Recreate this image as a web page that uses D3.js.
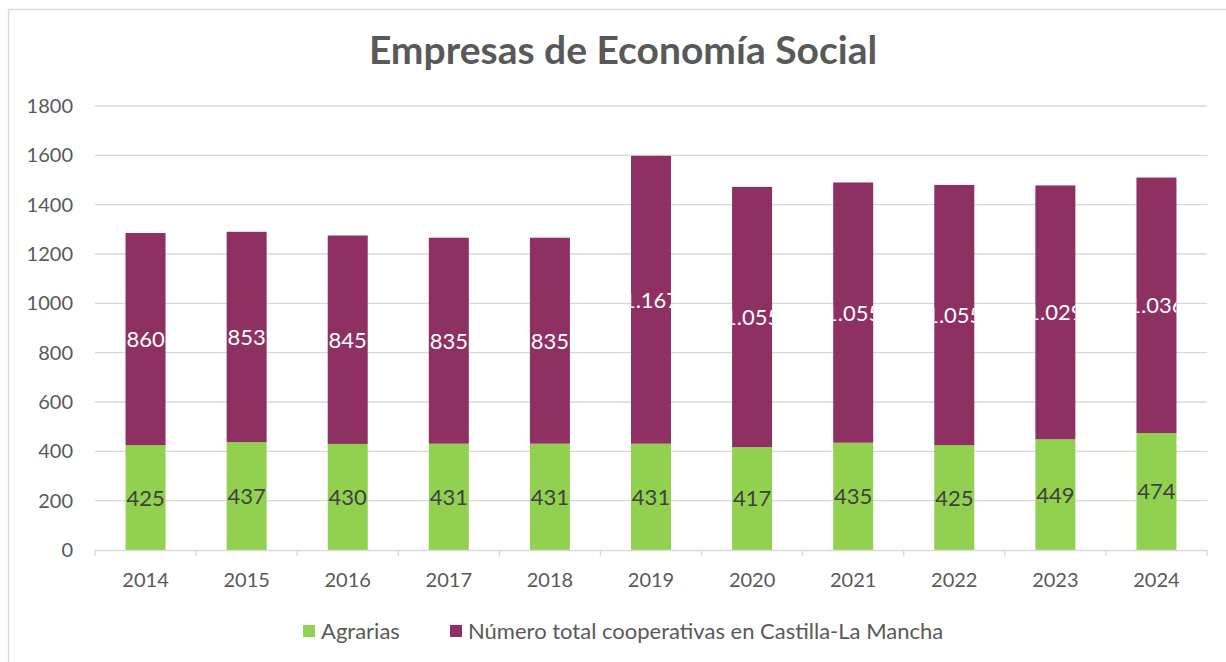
<!DOCTYPE html>
<html>
<head>
<meta charset="utf-8">
<title>Empresas de Economía Social</title>
<script src="https://cdn.jsdelivr.net/npm/d3@7"></script>
<style>
  body { margin: 0; background: #fff; }
  text { font-family: Lato, "Open Sans", sans-serif; }
</style>
</head>
<body>
<script>
const years = ["2014", "2015", "2016", "2017", "2018", "2019", "2020", "2021", "2022", "2023", "2024"];
const agrarias = [425, 437, 430, 431, 431, 431, 417, 435, 425, 449, 474];
const totalCoop = [860, 853, 845, 835, 835, 1167, 1055, 1055, 1055, 1029, 1036];
const yTicks = [0, 200, 400, 600, 800, 1000, 1200, 1400, 1600, 1800];
const seriesNames = ["Agrarias", "Número total cooperativas en Castilla-La Mancha"];

const green = "#92d050";
const purple = "#8e3062";
const textCol = "#595959";

const W = 1226, H = 662;
const margin = {top: 106, right: 19, bottom: 112, left: 95};

const svg = d3.select("body").append("svg")
    .attr("width", W)
    .attr("height", H);

// chart frame (right and bottom edges fall outside the picture)
svg.append("rect")
    .attr("x", 8.5).attr("y", 9.5)
    .attr("width", W + 20).attr("height", H + 20)
    .attr("fill", "#fff")
    .attr("stroke", "#d9d9d9")
    .attr("stroke-width", 1.5);

svg.append("text")
    .text("Empresas de Economía Social")
    .attr("x", 623)
    .attr("y", 64)
    .attr("text-anchor", "middle")
    .style("font-size", "39px")
    .style("font-weight", "bold")
    .style("fill", textCol);

const x = d3.scaleBand()
    .domain(years)
    .range([margin.left, W - margin.right]);

const y = d3.scaleLinear()
    .domain([0, 1800])
    .range([H - margin.bottom, margin.top]);

// gridlines
svg.append("g")
    .selectAll("line")
    .data(yTicks.filter(d => d > 0))
    .enter().append("line")
    .attr("x1", margin.left)
    .attr("x2", W - margin.right)
    .attr("y1", d => y(d))
    .attr("y2", d => y(d))
    .attr("stroke", "#d9d9d9")
    .attr("stroke-width", 1.3);

// y axis labels
const yAxis = svg.append("g")
    .attr("transform", "translate(" + margin.left + ",0)")
    .call(d3.axisLeft(y).tickValues(yTicks).tickFormat(d3.format("d")).tickSize(0).tickPadding(22));
yAxis.select(".domain").remove();
yAxis.selectAll("text")
    .style("font-size", "20px")
    .style("fill", textCol)
    .style("font-family", "Lato, sans-serif");

// stacked data
const rows = years.map((yr, i) => ({year: yr, agr: agrarias[i], tot: totalCoop[i]}));
const stack = d3.stack().keys(["agr", "tot"])(rows);
const colors = [green, purple];
const barW = 40;
const fmt = d3.formatLocale({decimal: ",", thousands: ".", grouping: [3], currency: ["", "€"]}).format(",d");

const defs = svg.append("defs");

stack.forEach((layer, li) => {
    const g = svg.append("g");
    layer.forEach((d, i) => {
        const bx = x(d.data.year) + x.bandwidth() / 2 - barW / 2;
        const id = "clip-" + li + "-" + i;
        defs.append("clipPath").attr("id", id)
            .append("rect")
            .attr("x", bx).attr("y", y(d[1]))
            .attr("width", barW).attr("height", y(d[0]) - y(d[1]));
        g.append("rect")
            .attr("x", bx)
            .attr("y", y(d[1]))
            .attr("width", barW)
            .attr("height", y(d[0]) - y(d[1]))
            .attr("fill", colors[li]);
        g.append("text")
            .attr("clip-path", "url(#" + id + ")")
            .attr("x", x(d.data.year) + x.bandwidth() / 2)
            .attr("y", y((d[0] + d[1]) / 2))
            .attr("dy", "0.36em")
            .attr("text-anchor", "middle")
            .style("font-size", "22px")
            .style("fill", li === 0 ? "#404040" : "#fff")
            .text(fmt(d[1] - d[0]));
    });
});

// x axis
const xAxis = svg.append("g")
    .attr("transform", "translate(0," + y(0) + ")")
    .call(d3.axisBottom(x).tickSize(0).tickPadding(23));
xAxis.select(".domain").attr("stroke", "#d9d9d9").attr("stroke-width", 1.3);
xAxis.selectAll("text")
    .style("font-size", "20px")
    .style("fill", textCol)
    .style("font-family", "Lato, sans-serif");
// category separators
xAxis.selectAll(".sep")
    .data(years.concat(["end"]))
    .enter().append("line")
    .attr("x1", (d, i) => margin.left + i * x.step())
    .attr("x2", (d, i) => margin.left + i * x.step())
    .attr("y1", 0).attr("y2", 6)
    .attr("stroke", "#d9d9d9")
    .attr("stroke-width", 1.3);

// legend
const legend = svg.append("g").attr("transform", "translate(0,631)");
const legX = [303, 450];
seriesNames.forEach((name, i) => {
    legend.append("rect")
        .attr("x", legX[i]).attr("y", -6)
        .attr("width", 12).attr("height", 12)
        .attr("fill", colors[i]);
    legend.append("text")
        .attr("x", legX[i] + 18)
        .attr("y", 0)
        .attr("dy", "0.35em")
        .style("font-size", "22px")
        .style("fill", textCol)
        .text(name);
});
</script>
</body>
</html>
